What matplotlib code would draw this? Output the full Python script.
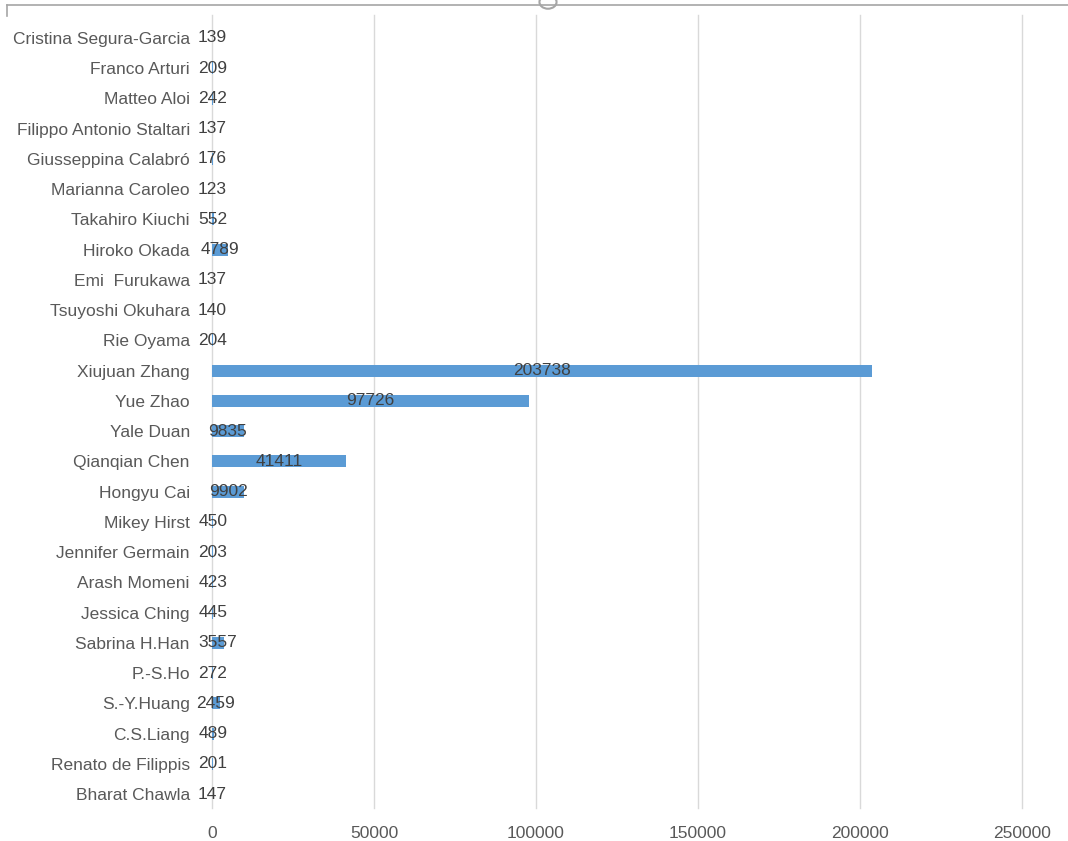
import matplotlib.pyplot as plt
from matplotlib.patches import Circle
from matplotlib.lines import Line2D

# categories listed top to bottom as in the chart
names = ['Cristina Segura-Garcia', 'Franco Arturi', 'Matteo Aloi',
         'Filippo Antonio Staltari', 'Giusseppina Calabró', 'Marianna Caroleo',
         'Takahiro Kiuchi', 'Hiroko Okada', 'Emi  Furukawa', 'Tsuyoshi Okuhara',
         'Rie Oyama', 'Xiujuan Zhang', 'Yue Zhao', 'Yale Duan', 'Qianqian Chen',
         'Hongyu Cai', 'Mikey Hirst', 'Jennifer Germain', 'Arash Momeni',
         'Jessica Ching', 'Sabrina H.Han', 'P.-S.Ho', 'S.-Y.Huang', 'C.S.Liang',
         'Renato de Filippis', 'Bharat Chawla']
counts = [139, 209, 242, 137, 176, 123, 552, 4789, 137, 140, 204, 203738,
          97726, 9835, 41411, 9902, 450, 203, 423, 445, 3557, 272, 2459, 489,
          201, 147]
xticks = [0, 50000, 100000, 150000, 200000, 250000]

plt.rcParams['font.family'] = ['Liberation Sans', 'DejaVu Sans']

fig = plt.figure(figsize=(10.68, 8.41), dpi=100)
ax = fig.add_axes([212/1068, 1 - 808/841, (1022 - 212)/1068, (808 - 15)/841])

names_b = names[::-1]
counts_b = counts[::-1]
ypos = list(range(len(names_b)))
ax.barh(ypos, counts_b, height=0.4, color='#5B9BD5', zorder=2)
for y, v in zip(ypos, counts_b):
    ax.text(v / 2, y, str(v), ha='center', va='center', fontsize=12.5,
            color='#404040', zorder=3)

ax.set_yticks(ypos)
ax.set_yticklabels(names_b, fontsize=12.5, color='#595959')
ax.set_xticks(xticks)
ax.set_xticklabels([str(t) for t in xticks], fontsize=12.5, color='#595959')
ax.set_xlim(0, 250000)
ax.set_ylim(-0.46, 25.76)
ax.tick_params(axis='y', length=0, pad=16)
ax.tick_params(axis='x', length=0, pad=13)
ax.grid(axis='x', color='#d9d9d9', linewidth=1, zorder=0)
for gl in ax.get_xgridlines():
    gl.set_clip_on(False)
for s in ax.spines.values():
    s.set_visible(False)

# chart frame remnant and handle at the top of the crop
fig.add_artist(Line2D([7/1068, 1], [1 - 5/841, 1 - 5/841], color='#a6a6a6', lw=1.2))
fig.add_artist(Line2D([7/1068, 7/1068], [1 - 5/841, 1 - 16/841], color='#a6a6a6', lw=1.2))
fig.add_artist(Circle((548/1068, 1 - 2/841), 0.008, transform=fig.transFigure,
                      facecolor='white', edgecolor='#a6a6a6', lw=1.5))

fig.savefig('out.png', dpi=100)
